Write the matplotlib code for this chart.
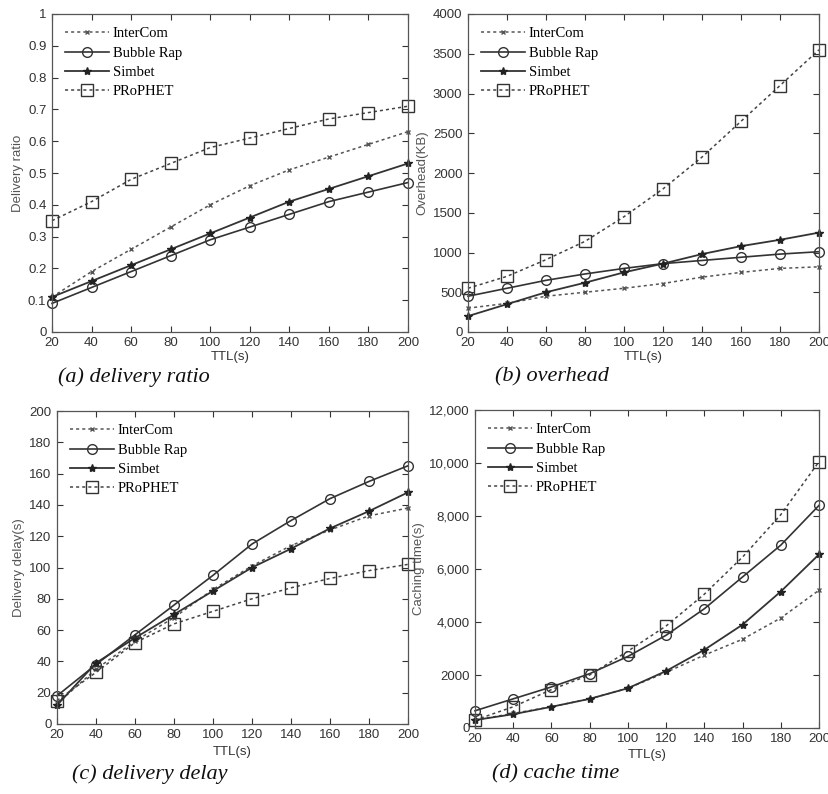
import matplotlib
matplotlib.use("Agg")
import matplotlib.pyplot as plt
from matplotlib.ticker import FixedLocator, FixedFormatter

ttl = [20, 40, 60, 80, 100, 120, 140, 160, 180, 200]
series_names = ["InterCom", "Bubble Rap", "Simbet", "PRoPHET"]

ratio_intercom = [0.11, 0.19, 0.26, 0.33, 0.40, 0.46, 0.51, 0.55, 0.59, 0.63]
ratio_bubble = [0.09, 0.14, 0.19, 0.24, 0.29, 0.33, 0.37, 0.41, 0.44, 0.47]
ratio_simbet = [0.11, 0.16, 0.21, 0.26, 0.31, 0.36, 0.41, 0.45, 0.49, 0.53]
ratio_prophet = [0.35, 0.41, 0.48, 0.53, 0.58, 0.61, 0.64, 0.67, 0.69, 0.71]

over_intercom = [300, 360, 450, 500, 550, 610, 690, 750, 800, 820]
over_bubble = [450, 550, 650, 730, 800, 860, 900, 940, 980, 1010]
over_simbet = [200, 350, 500, 620, 750, 860, 980, 1080, 1160, 1250]
over_prophet = [550, 700, 910, 1140, 1450, 1800, 2200, 2650, 3100, 3550]

delay_intercom = [13, 35, 53, 68, 86, 101, 114, 124, 133, 138]
delay_bubble = [18, 38, 57, 76, 95, 115, 130, 144, 155, 165]
delay_simbet = [12, 39, 55, 70, 85, 100, 112, 125, 136, 148]
delay_prophet = [15, 33, 52, 64, 72, 80, 87, 93, 98, 102]

cache_intercom = [300, 550, 800, 1100, 1500, 2100, 2750, 3350, 4150, 5200]
cache_bubble = [650, 1100, 1550, 2050, 2700, 3500, 4500, 5700, 6900, 8400]
cache_simbet = [300, 520, 800, 1100, 1500, 2150, 2950, 3900, 5150, 6550]
cache_prophet = [300, 800, 1450, 2000, 2900, 3850, 5050, 6450, 8050, 10050]

ylabels = ["Delivery ratio", "Overhead(KB)", "Delivery delay(s)", "Caching time(s)"]
captions = ["(a) delivery ratio", "(b) overhead", "(c) delivery delay", "(d) cache time"]

ratio_ticks = [0, 0.1, 0.2, 0.3, 0.4, 0.5, 0.6, 0.7, 0.8, 0.9, 1]
ratio_ticklabels = ["0", "0.1", "0.2", "0.3", "0.4", "0.5", "0.6", "0.7", "0.8", "0.9", "1"]
over_ticks = [0, 500, 1000, 1500, 2000, 2500, 3000, 3500, 4000]
over_ticklabels = ["0", "500", "1000", "1500", "2000", "2500", "3000", "3500", "4000"]
delay_ticks = [0, 20, 40, 60, 80, 100, 120, 140, 160, 180, 200]
delay_ticklabels = ["0", "20", "40", "60", "80", "100", "120", "140", "160", "180", "200"]
cache_ticks = [0, 2000, 4000, 6000, 8000, 10000, 12000]
cache_ticklabels = ["0", "2000", "4,000", "6,000", "8,000", "10,000", "12,000"]

W, H = 829, 794
fig = plt.figure(figsize=(W / 100, H / 100), dpi=100)

def rect(l, r, t, b):
    return [l / W, 1 - b / H, (r - l) / W, (b - t) / H]

panels = [
    dict(box=rect(52, 408, 14, 332), data=[ratio_intercom, ratio_bubble, ratio_simbet, ratio_prophet],
         ylim=(0, 1), ticks=ratio_ticks, labels=ratio_ticklabels, ylab=ylabels[0], cap=captions[0],
         capx=134 / W, capy=1 - 377 / H, xlaby=1 - 357 / H),
    dict(box=rect(468, 819, 14, 332), data=[over_intercom, over_bubble, over_simbet, over_prophet],
         ylim=(0, 4000), ticks=over_ticks, labels=over_ticklabels, ylab=ylabels[1], cap=captions[1],
         capx=552 / W, capy=1 - 377 / H, xlaby=1 - 357 / H),
    dict(box=rect(57, 408, 411, 724), data=[delay_intercom, delay_bubble, delay_simbet, delay_prophet],
         ylim=(0, 200), ticks=delay_ticks, labels=delay_ticklabels, ylab=ylabels[2], cap=captions[2],
         capx=150 / W, capy=1 - 774 / H, xlaby=1 - 752 / H),
    dict(box=rect(475, 819, 410, 728), data=[cache_intercom, cache_bubble, cache_simbet, cache_prophet],
         ylim=(0, 12000), ticks=cache_ticks, labels=cache_ticklabels, ylab=ylabels[3], cap=captions[3],
         capx=556 / W, capy=1 - 774 / H, xlaby=1 - 755 / H),
]

styles = [
    dict(ls=(0, (2, 2)), marker="x", ms=3.5, mfc="#555555", mec="#555555", color="#555555", lw=1.1),
    dict(ls="-", marker="o", ms=7, mfc="none", mec="#333333", color="#333333", lw=1.2),
    dict(ls="-", marker="*", ms=6, mfc="#222222", mec="#222222", color="#333333", lw=1.3),
    dict(ls=(0, (2, 2)), marker="s", ms=8, mfc="none", mec="#333333", color="#444444", lw=1.1),
]

for p in panels:
    ax = fig.add_axes(p["box"])
    for name, vals, st in zip(series_names, p["data"], styles):
        ax.plot(ttl, vals, label=name, linestyle=st["ls"], marker=st["marker"], markersize=st["ms"],
                markerfacecolor=st["mfc"], markeredgecolor=st["mec"], color=st["color"],
                linewidth=st["lw"], clip_on=False)
    ax.set_xlim(20, 200)
    ax.set_ylim(*p["ylim"])
    ax.set_xticks(ttl)
    ax.set_xticklabels([str(v) for v in ttl], fontsize=9.5, family="Liberation Sans", color="#333333")
    ax.yaxis.set_major_locator(FixedLocator(p["ticks"]))
    ax.yaxis.set_major_formatter(FixedFormatter(p["labels"]))
    for lab in ax.get_yticklabels():
        lab.set_fontsize(9.5)
        lab.set_family("Liberation Sans")
        lab.set_color("#333333")
    ax.tick_params(direction="in", top=True, right=True, length=4, width=0.8, colors="#333333",
                   labelcolor="#333333")
    ax.tick_params(axis="x", pad=3.5)
    ax.tick_params(axis="y", pad=4)
    for s in ax.spines.values():
        s.set_color("#555555")
        s.set_linewidth(0.9)
    ax.set_ylabel(p["ylab"], fontsize=9.5, family="Liberation Sans", color="#555555", labelpad=3)
    fig.text((p["box"][0] + p["box"][2] / 2), p["xlaby"], "TTL(s)", ha="center", va="center",
             fontsize=9.5, family="Liberation Sans", color="#333333")
    fig.text(p["capx"], p["capy"], p["cap"], ha="center", va="center", fontsize=16,
             family="Liberation Serif", style="italic", color="#111111")
    ax.legend(loc="upper left", frameon=False, prop=dict(family="Liberation Serif", size=10.5),
              handlelength=3.0, handletextpad=0.25, labelspacing=0.42, borderaxespad=0.5,
              bbox_to_anchor=(0.0, 1.0))

fig.savefig("out.png", dpi=100)
